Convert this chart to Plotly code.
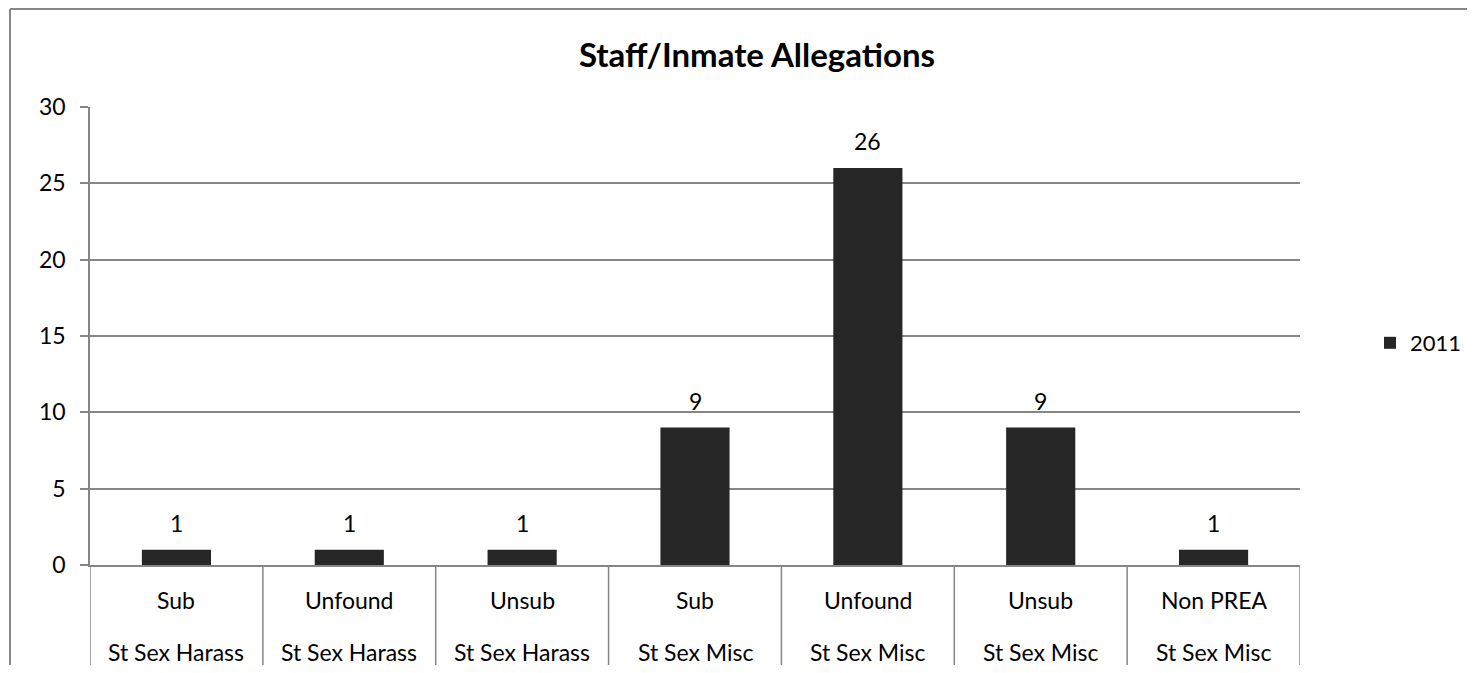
import plotly.graph_objects as go

outcomes = ["Sub", "Unfound", "Unsub", "Sub", "Unfound", "Unsub", "Non PREA"]
types = ["St Sex Harass", "St Sex Harass", "St Sex Harass", "St Sex Misc", "St Sex Misc", "St Sex Misc", "St Sex Misc"]
values_2011 = [1, 1, 1, 9, 26, 9, 1]
series_name = "2011"
title = "Staff/Inmate Allegations"
y_ticks = [0, 5, 10, 15, 20, 25, 30]

# page is shown with an 8px body margin; build the figure to fit inside it
OFF = 8
W, H = 1475 - 2 * OFF, 673 - 2 * OFF
FONT = "Lato, 'Open Sans', sans-serif"
GRID = "#868686"
BAR = "#262626"


def px(x):
    return (x - OFF) / W


def py(y):
    return 1 - (y - OFF) / H


idx = list(range(len(values_2011)))

fig = go.Figure()
fig.add_trace(go.Bar(
    x=idx, y=values_2011, name=series_name,
    marker=dict(color=BAR, line=dict(width=0)),
    showlegend=True,
))

# data labels
for i, v in zip(idx, values_2011):
    fig.add_annotation(x=i, y=v, xref="x", yref="y", text=str(v), showarrow=False,
                       yanchor="bottom", yshift=11, font=dict(size=23, color="#000000", family=FONT))

# category labels (two rows)
for i, (o, t) in enumerate(zip(outcomes, types)):
    fig.add_annotation(x=i, y=py(600), xref="x", yref="paper", text=o, showarrow=False,
                       yanchor="middle", font=dict(size=23, color="#000000", family=FONT))
    fig.add_annotation(x=i, y=py(652), xref="x", yref="paper", text=t, showarrow=False,
                       yanchor="middle", font=dict(size=23, color="#000000", family=FONT))

# category separators
for k in range(len(values_2011) + 1):
    fig.add_shape(type="line", xref="x", yref="paper", x0=k - 0.5, x1=k - 0.5,
                  y0=py(565), y1=py(667), line=dict(color=GRID, width=1.5))

# outer frame (left and top edges)
fig.add_shape(type="line", xref="paper", yref="paper", x0=px(10), x1=1, y0=py(9), y1=py(9),
              line=dict(color=GRID, width=2))
fig.add_shape(type="line", xref="paper", yref="paper", x0=px(10), x1=px(10), y0=py(9), y1=0,
              line=dict(color=GRID, width=2))

fig.update_layout(
    width=W, height=H,
    margin=dict(l=0, r=0, t=0, b=0, autoexpand=False),
    paper_bgcolor="white", plot_bgcolor="white",
    bargap=0.6,
    title=dict(text="<b>" + title + "</b>", x=px(757), y=py(55), xanchor="center", yanchor="middle",
               font=dict(size=33, color="#000000", family=FONT)),
    xaxis=dict(domain=[px(90), px(1300)], range=[-0.5, len(values_2011) - 0.5],
               showticklabels=False, showgrid=False, zeroline=False, automargin=False,
               showline=True, linecolor=GRID, linewidth=1.5, ticks=""),
    yaxis=dict(domain=[py(565), py(107)], range=[0, 30], tickvals=y_ticks,
               showgrid=True, gridcolor=GRID, gridwidth=1.5, zeroline=False, automargin=False,
               showline=True, linecolor=GRID, linewidth=1.5,
               ticks="outside", ticklen=8, tickcolor=GRID, tickwidth=1.5,
               ticklabelstandoff=10,
               tickfont=dict(size=23, color="#000000", family=FONT)),
    legend=dict(x=px(1370), y=py(343), xanchor="left", yanchor="middle",
                font=dict(size=22, color="#000000", family=FONT),
                bgcolor="rgba(0,0,0,0)", borderwidth=0),
    font=dict(family=FONT),
)

fig.write_html("out.html")
